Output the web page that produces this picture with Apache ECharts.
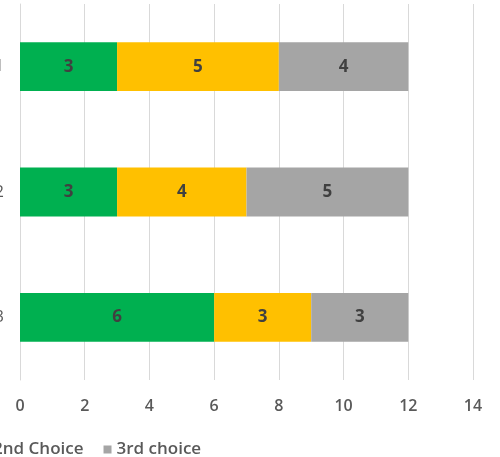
<!DOCTYPE html>
<html><head><meta charset="utf-8">
<script src="https://cdn.jsdelivr.net/npm/echarts@6/dist/echarts.min.js"></script>
<style>html,body{margin:0;padding:0;background:#fff}#c{width:500px;height:457px}</style>
</head><body><div id="c"></div>
<script>
const categories = ['Category 3', 'Category 2', 'Category 1'];
const firstChoice = [6, 3, 3];
const secondChoice = [3, 4, 5];
const thirdChoice = [3, 5, 4];
const xTicks = {min: 0, max: 14, interval: 2};

const chart = echarts.init(document.getElementById('c'));
const lbl = {show: true, color: '#404040', fontSize: 17, fontWeight: 'bold', fontFamily: 'Open Sans'};
function s(name, data, color) {
  return {name, type: 'bar', stack: 'a', data, barCategoryGap: '61%',
    itemStyle: {color}, label: lbl, emphasis: {disabled: true}};
}
chart.setOption({
  animation: false,
  grid: {left: 20, right: 27, top: 4, bottom: 77, containLabel: false, outerBoundsMode: 'none'},
  xAxis: {type: 'value', min: xTicks.min, max: xTicks.max, interval: xTicks.interval,
    axisLine: {show: false}, axisTick: {show: false},
    splitLine: {lineStyle: {color: '#d9d9d9', width: 1}},
    axisLabel: {color: '#595959', fontSize: 16, fontWeight: 600, fontFamily: 'Open Sans', margin: 18}},
  yAxis: {type: 'category', data: categories,
    axisLine: {show: true, lineStyle: {color: '#d9d9d9'}}, axisTick: {show: false},
    axisLabel: {color: '#595959', fontSize: 16, fontFamily: 'Open Sans', margin: 16}},
  legend: {left: -142, top: 436, itemWidth: 8, itemHeight: 8, itemGap: 20, icon: 'rect',
    textStyle: {color: '#595959', fontSize: 17, fontWeight: 600, fontFamily: 'Open Sans'},
    data: ['1st Choice', '2nd Choice', '3rd choice']},
  series: [s('1st Choice', firstChoice, '#00B050'), s('2nd Choice', secondChoice, '#FFC000'), s('3rd choice', thirdChoice, '#A5A5A5')]
});
</script></body></html>
